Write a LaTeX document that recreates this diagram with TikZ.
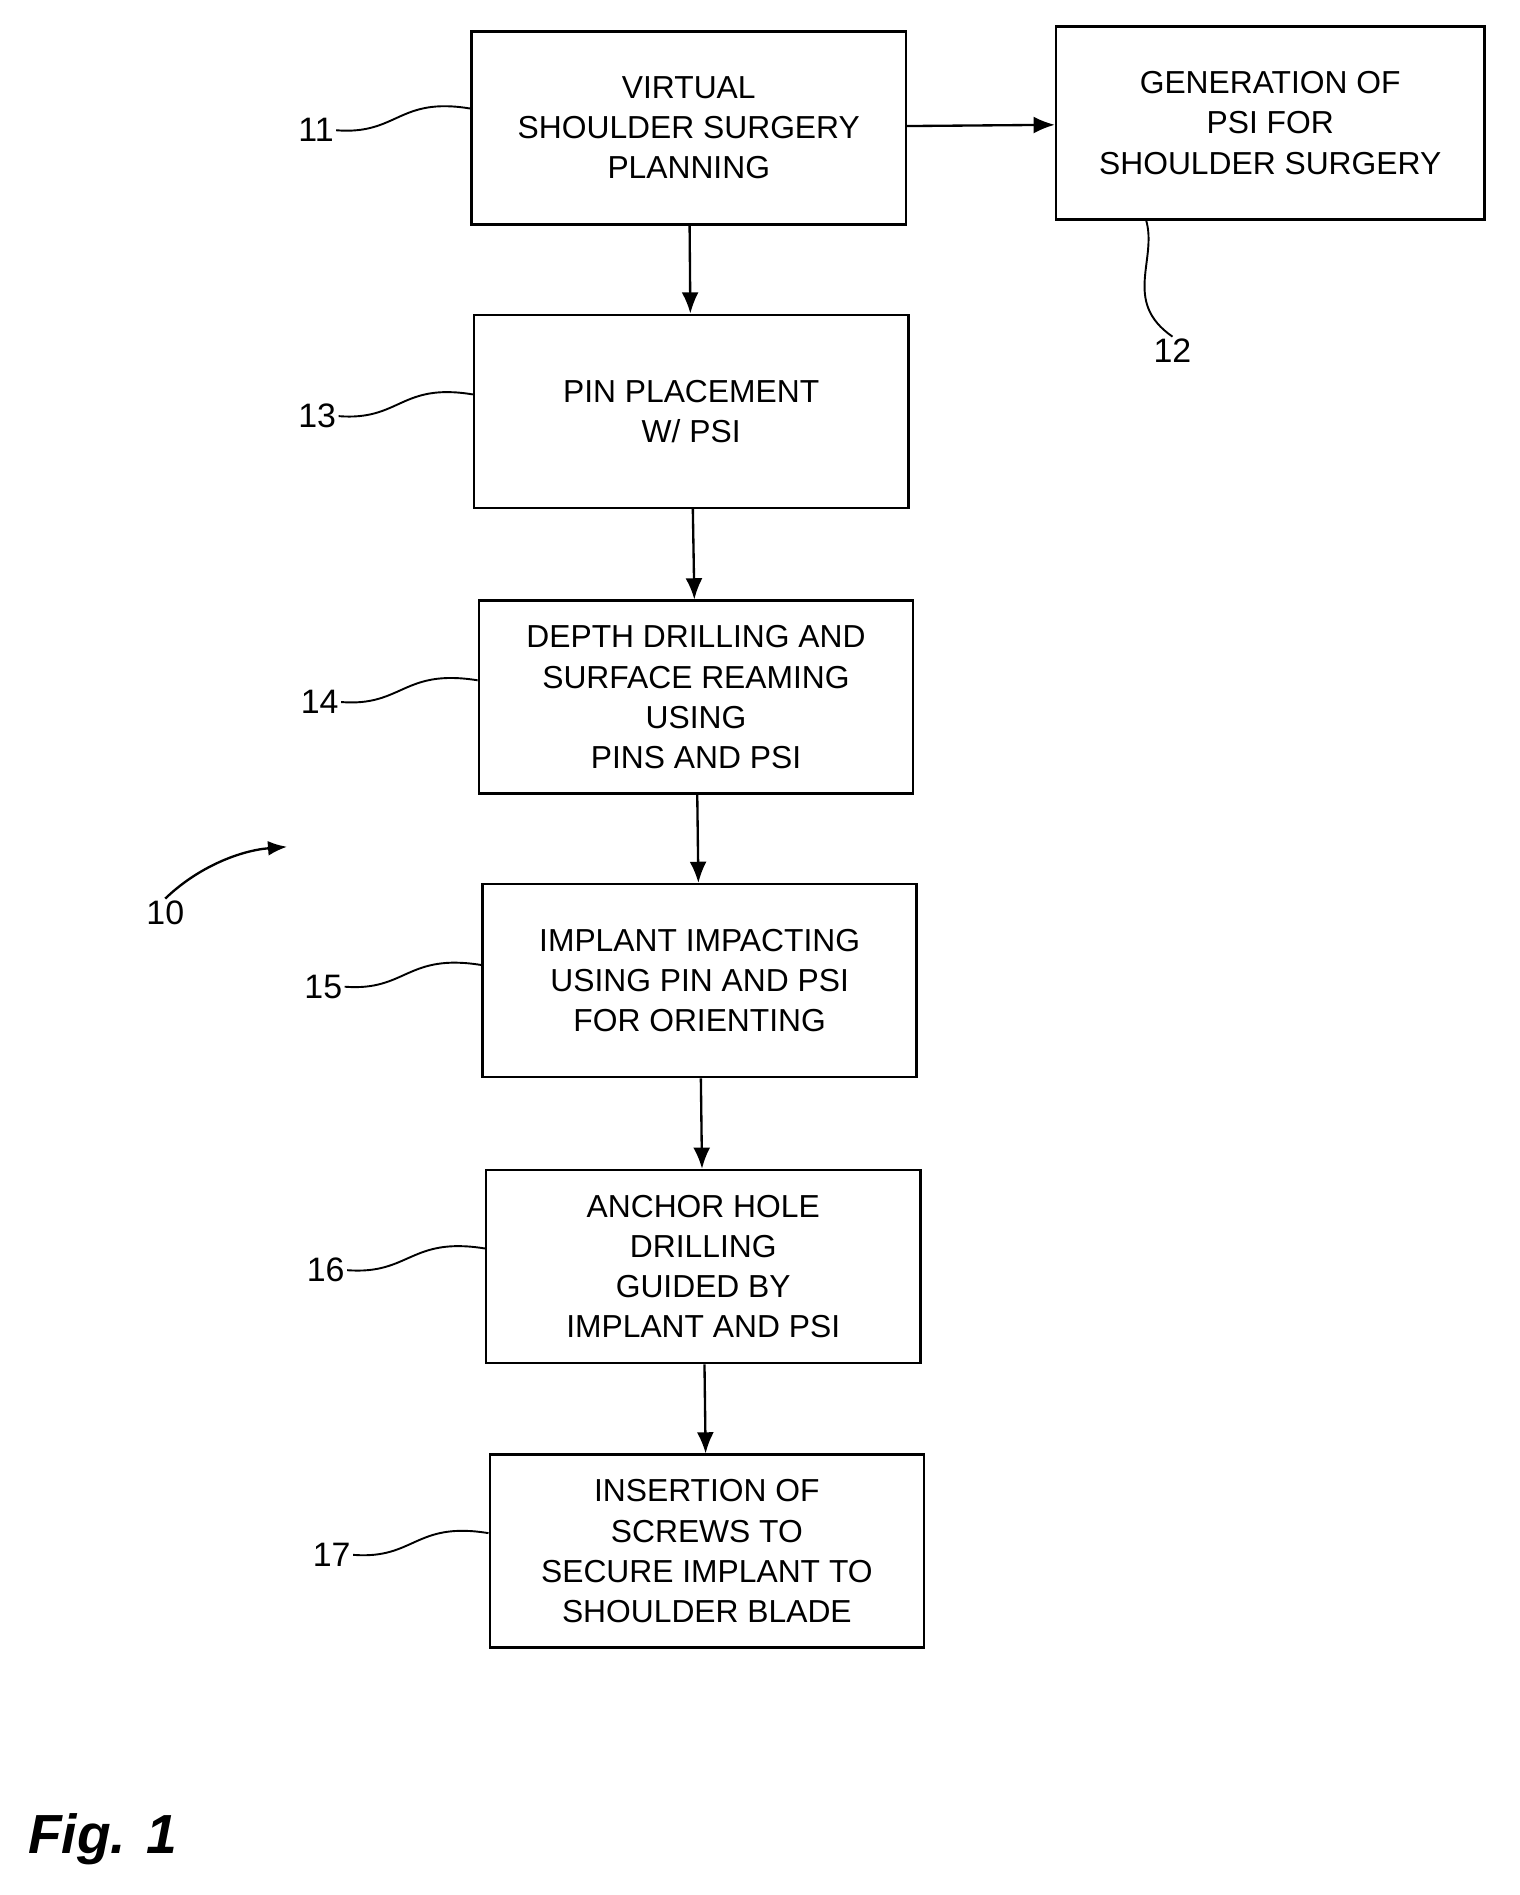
\documentclass[tikz,border=0pt]{standalone}
\usepackage{fontspec}
\setmainfont{Liberation Sans}
\usetikzlibrary{arrows.meta}
\tikzstyle{stage}=[draw=black,line width=1.2pt,minimum width=7.2cm,minimum height=3.2cm,align=center,font=\fontsize{15}{19}\selectfont,inner sep=0pt]
\tikzstyle{flow}=[-{Latex[length=10pt,width=8pt]},line width=1.1pt]
\tikzstyle{lead}=[line width=0.9pt]
\tikzstyle{ref}=[inner sep=1pt,font=\fontsize{16}{18}\selectfont]
\begin{document}
\begin{tikzpicture}[x=0.02cm,y=-0.02cm]
  \useasboundingbox (0,0) rectangle (1260,1571);
  \node [style=stage] (11) at (571, 106) {VIRTUAL\\SHOULDER SURGERY\\PLANNING};
  \node [style=stage,minimum width=7.1cm] (12) at (1053, 102) {GENERATION OF\\PSI FOR\\SHOULDER SURGERY};
  \node [style=stage] (13) at (573, 341) {PIN PLACEMENT\\W/ PSI};
  \node [style=stage] (14) at (577, 578) {DEPTH DRILLING AND\\SURFACE REAMING\\USING\\PINS AND PSI};
  \node [style=stage] (15) at (580, 813) {IMPLANT IMPACTING\\USING PIN AND PSI\\FOR ORIENTING};
  \node [style=stage] (16) at (583, 1050) {ANCHOR HOLE\\DRILLING\\GUIDED BY\\IMPLANT AND PSI};
  \node [style=stage] (17) at (586, 1286) {INSERTION OF\\SCREWS TO\\SECURE IMPLANT TO\\SHOULDER BLADE};
  \draw [style=flow] (11) to (12);
  \draw [style=flow] (11) to (13);
  \draw [style=flow] (13) to (14);
  \draw [style=flow] (14) to (15);
  \draw [style=flow] (15) to (16);
  \draw [style=flow] (16) to (17);
  % reference numerals
  \node [style=ref] (r11) at (262, 108) {11};
  \node [style=ref] (r13) at (263, 345) {13};
  \node [style=ref] (r14) at (265, 582) {14};
  \node [style=ref] (r15) at (268, 818) {15};
  \node [style=ref] (r16) at (270, 1053) {16};
  \node [style=ref] (r17) at (275, 1289) {17};
  \node [style=ref] (r12) at (972, 291) {12};
  \node [style=ref] (r10) at (137, 757) {10};
  \node [style=ref,font=\fontsize{26}{28}\selectfont\bfseries\itshape] (fig) at (85, 1525) {Fig. 1};
  \draw [style=lead] (r11.east) .. controls (330,112) and (330,80) .. (11.west |- 0,90);
  \draw [style=lead] (r13.east) .. controls (332,349) and (332,317) .. (13.west |- 0,327);
  \draw [style=lead] (r14.east) .. controls (334,586) and (334,554) .. (14.west |- 0,564);
  \draw [style=lead] (r15.east) .. controls (337,822) and (337,790) .. (15.west |- 0,800);
  \draw [style=lead] (r16.east) .. controls (340,1057) and (340,1025) .. (16.west |- 0,1035);
  \draw [style=lead] (r17.east) .. controls (344,1293) and (344,1261) .. (17.west |- 0,1271);
  \draw [style=lead] (r12.north) .. controls (930,250) and (960,215) .. (950,182);
  \draw [style=flow,-{Latex[length=9pt,width=7pt]}] (r10.north) .. controls (165,718) and (200,705) .. (238,702);
\end{tikzpicture}
\end{document}
